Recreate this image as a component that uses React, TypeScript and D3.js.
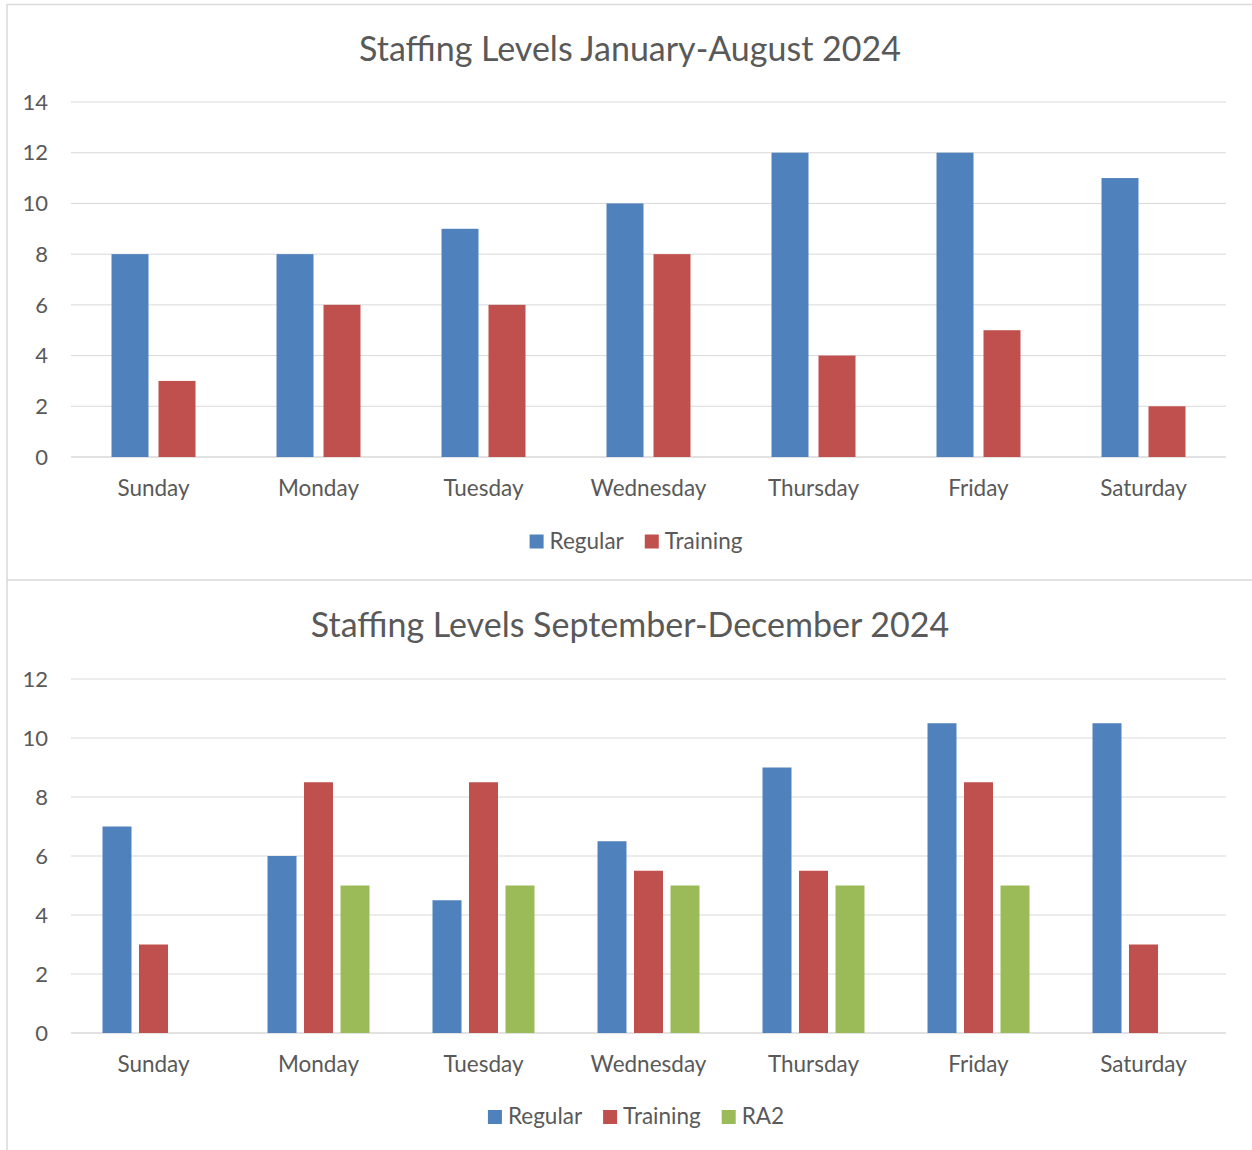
import React from "react";
import * as d3 from "d3";

const WIDTH = 1252;
const HEIGHT = 1150;
const FONT = "Lato, 'Open Sans', sans-serif";
const TEXT = "#595959";
const GRID = "#d9d9d9";

const days = ["Sunday", "Monday", "Tuesday", "Wednesday", "Thursday", "Friday", "Saturday"];

// Jan-Aug 2024
const regularA = [8, 8, 9, 10, 12, 12, 11];
const trainingA = [3, 6, 6, 8, 4, 5, 2];
const ticksA = [0, 2, 4, 6, 8, 10, 12, 14];

// Sep-Dec 2024
const regularB = [7, 6, 4.5, 6.5, 9, 10.5, 10.5];
const trainingB = [3, 8.5, 8.5, 5.5, 5.5, 8.5, 3];
const ra2B = [null, 5, 5, 5, 5, 5, null];
const ticksB = [0, 2, 4, 6, 8, 10, 12];

const COLORS: Record<string, string> = {
  Regular: "#4f81bd",
  Training: "#c0504d",
  RA2: "#9bbb59",
};

interface Series {
  name: string;
  values: (number | null)[];
}

interface ChartProps {
  title: string;
  series: Series[];
  ticks: number[];
  titleY: number;
  yTop: number;
  yBottom: number;
  groupWidth: number;
  padInner: number;
  legendY: number;
}

const canvas = typeof document !== "undefined" ? document.createElement("canvas") : null;
const measure = (text: string, size: number) => {
  const ctx = canvas?.getContext("2d");
  if (!ctx) return text.length * size * 0.5;
  ctx.font = `${size}px Lato`;
  return ctx.measureText(text).width;
};

const Chart = ({ title, series, ticks, titleY, yTop, yBottom, groupWidth, padInner, legendY }: ChartProps) => {
  const x0 = d3.scaleBand().domain(days).range([71, 1226]);
  const x1 = d3
    .scaleBand()
    .domain(series.map((s) => s.name))
    .range([-groupWidth / 2, groupWidth / 2])
    .paddingInner(padInner);
  const y = d3
    .scaleLinear()
    .domain([0, ticks[ticks.length - 1]])
    .range([yBottom, yTop]);

  // legend layout, centred
  const legendSize = 22.5;
  const items = series.map((s) => ({ name: s.name, w: 14 + 6 + measure(s.name, legendSize) }));
  const totalW = d3.sum(items, (d) => d.w) + 21 * (items.length - 1);
  let cursor = 636 - totalW / 2;
  const legendItems = items.map((it) => {
    const pos = cursor;
    cursor += it.w + 21;
    return { ...it, x: pos };
  });

  return (
    <g fontFamily={FONT} fill={TEXT}>
      <text x={630} y={titleY} textAnchor="middle" fontSize={34}>
        {title}
      </text>
      {ticks.map((t) => (
        <g key={t}>
          <line x1={71} x2={1226} y1={y(t)} y2={y(t)} stroke={GRID} strokeWidth={t === 0 ? 1.5 : 1} />
          <text x={48} y={y(t)} dy="0.35em" textAnchor="end" fontSize={22}>
            {t}
          </text>
        </g>
      ))}
      {days.map((day, i) => (
        <g key={day} transform={`translate(${x0(day)! + x0.bandwidth() / 2},0)`}>
          {series.map((s) =>
            s.values[i] == null ? null : (
              <rect
                key={s.name}
                x={x1(s.name)}
                width={x1.bandwidth()}
                y={y(s.values[i] as number)}
                height={yBottom - y(s.values[i] as number)}
                fill={COLORS[s.name]}
              />
            )
          )}
          <text x={0} y={yBottom + 38.5} textAnchor="middle" fontSize={22.5}>
            {day}
          </text>
        </g>
      ))}
      {legendItems.map((it) => (
        <g key={it.name} transform={`translate(${it.x},${legendY})`}>
          <rect x={0} y={-14} width={14} height={14} fill={COLORS[it.name]} />
          <text x={20} y={0} fontSize={legendSize}>
            {it.name}
          </text>
        </g>
      ))}
    </g>
  );
};

export default function App() {
  return (
    <svg
      width={WIDTH}
      height={HEIGHT}
      style={{ position: "absolute", left: 0, top: 0, background: "#fff" }}
    >
      <rect x={0} y={0} width={WIDTH} height={HEIGHT} fill="#fff" />
      <line x1={7} x2={WIDTH} y1={4.5} y2={4.5} stroke={GRID} strokeWidth={1.5} />
      <line x1={7} x2={7} y1={4} y2={HEIGHT} stroke={GRID} strokeWidth={1.5} />
      <line x1={7} x2={WIDTH} y1={580} y2={580} stroke={GRID} strokeWidth={1.5} />
      <Chart
        title="Staffing Levels January-August 2024"
        series={[
          { name: "Regular", values: regularA },
          { name: "Training", values: trainingA },
        ]}
        ticks={ticksA}
        titleY={61}
        yTop={102}
        yBottom={457}
        groupWidth={84}
        padInner={10 / 47}
        legendY={548.5}
      />
      <Chart
        title="Staffing Levels September-December 2024"
        series={[
          { name: "Regular", values: regularB },
          { name: "Training", values: trainingB },
          { name: "RA2", values: ra2B },
        ]}
        ticks={ticksB}
        titleY={637}
        yTop={679}
        yBottom={1033}
        groupWidth={102}
        padInner={7.5 / 36.5}
        legendY={1124}
      />
    </svg>
  );
}
